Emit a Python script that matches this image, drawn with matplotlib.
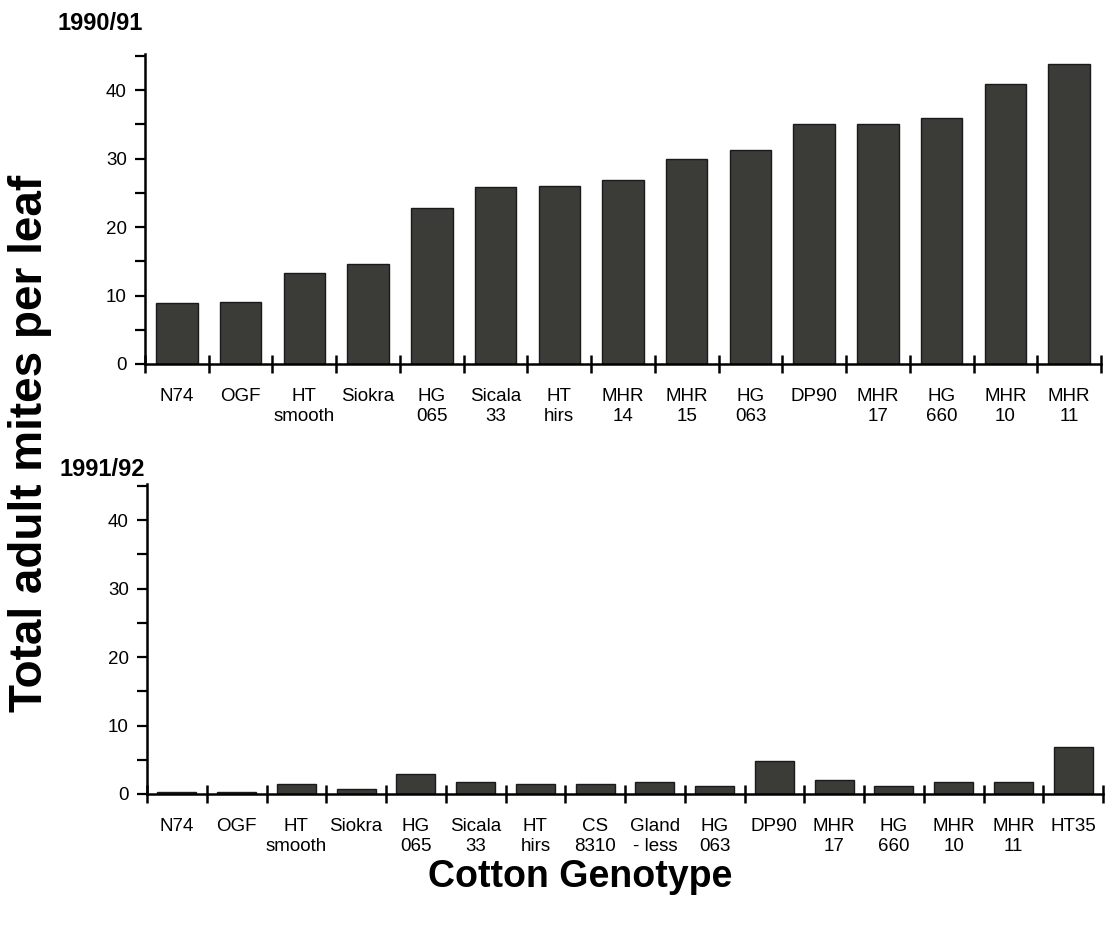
import matplotlib
matplotlib.use("Agg")
import matplotlib.pyplot as plt
import numpy as np

plt.rcParams["font.family"] = ["Liberation Sans", "DejaVu Sans"]

# 1990/91 season
labels_9091 = ["N74", "OGF", "HT\nsmooth", "Siokra", "HG\n065", "Sicala\n33", "HT\nhirs",
               "MHR\n14", "MHR\n15", "HG\n063", "DP90", "MHR\n17", "HG\n660", "MHR\n10", "MHR\n11"]
mites_9091 = [8.9, 9.0, 13.3, 14.6, 22.8, 25.9, 26.0, 26.9, 30.0, 31.3, 35.0, 35.0, 35.9, 40.9, 43.9]

# 1991/92 season
labels_9192 = ["N74", "OGF", "HT\nsmooth", "Siokra", "HG\n065", "Sicala\n33", "HT\nhirs",
               "CS\n8310", "Gland\n- less", "HG\n063", "DP90", "MHR\n17", "HG\n660", "MHR\n10",
               "MHR\n11", "HT35"]
mites_9192 = [0.3, 0.3, 1.4, 0.7, 2.9, 1.7, 1.4, 1.4, 1.7, 1.1, 4.8, 2.1, 1.1, 1.8, 1.8, 6.8]

bar_color = "#3b3c38"
W, H = 1110, 925

fig = plt.figure(figsize=(W / 100, H / 100), dpi=100)
ax1 = fig.add_axes([145 / W, 1 - 364 / H, 956 / W, 310 / H])
ax2 = fig.add_axes([147 / W, 1 - 794 / H, 956 / W, 310 / H])


def draw_panel(ax, labels, values, title, title_y):
    n = len(values)
    x = np.arange(n)
    ax.bar(x, values, width=0.65, color=bar_color, edgecolor="#1a1a1a", linewidth=1.0, zorder=2)
    ax.set_xlim(-0.5, n - 0.5)
    ax.set_ylim(0, 45.3)
    for s in ["top", "right"]:
        ax.spines[s].set_visible(False)
    ax.spines["left"].set_linewidth(1.8)
    ax.spines["bottom"].set_linewidth(1.8)
    # category labels at centres, separator ticks between categories
    ax.set_xticks(x)
    ax.set_xticklabels(labels, fontsize=13.5, linespacing=1.25)
    ax.tick_params(axis="x", which="major", length=0, pad=17)
    ax.set_xticks(np.arange(n + 1) - 0.5, minor=True)
    ax.tick_params(axis="x", which="minor", direction="inout", length=13, width=1.8)
    ax.set_yticks([0, 10, 20, 30, 40])
    ax.set_yticks([5, 15, 25, 35, 45], minor=True)
    ax.tick_params(axis="y", which="both", direction="out", length=7, width=1.6, labelsize=13.5, pad=6)
    ax.text(-0.002, title_y, title, transform=ax.transAxes, ha="right", va="bottom",
            fontsize=17, fontweight="bold")


draw_panel(ax1, labels_9091, mites_9091, "1990/91", 1.06)
draw_panel(ax2, labels_9192, mites_9192, "1991/92", 1.01)

fig.text(30 / W, 1 - 443 / H, "Total adult mites per leaf", rotation=90, ha="center", va="center",
         fontsize=33, fontweight="bold")
fig.text(580 / W, 1 - 877 / H, "Cotton Genotype", ha="center", va="center",
         fontsize=27, fontweight="bold")

fig.savefig("out.png", dpi=100)
